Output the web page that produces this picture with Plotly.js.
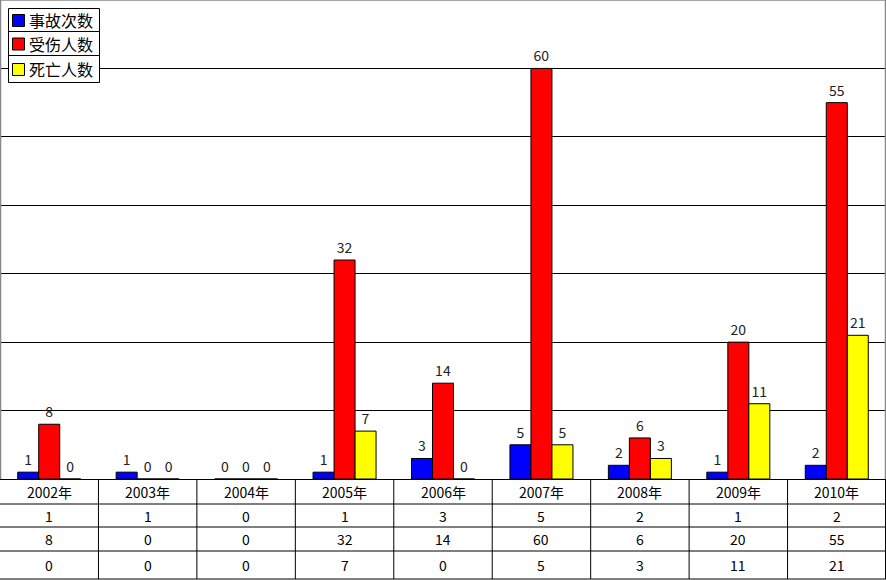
<!DOCTYPE html>
<html>
<head>
<meta charset="utf-8">
<script src="https://cdn.plot.ly/plotly-3.0.1.min.js"></script>
<style>html,body{margin:0;padding:0;background:#fff;}#chart{width:886px;height:580px;}</style>
</head>
<body>
<div id="chart"></div>
<script>
var years = ['2002年','2003年','2004年','2005年','2006年','2007年','2008年','2009年','2010年'];
var seriesNames = ['事故次数','受伤人数','死亡人数'];
var accidents = [1,1,0,1,3,5,2,1,2];
var injured = [8,0,0,32,14,60,6,20,55];
var deaths = [0,0,0,7,0,5,3,11,21];

var seriesValues = [accidents, injured, deaths];
var colors = ['#0000FF','#FF0000','#FFFF00'];
var FONT = "SimSun, 'Noto Sans CJK SC', sans-serif";

var traces = seriesValues.map(function(vals, k){
  return {
    type:'bar', name: seriesNames[k], x: years, y: vals,
    marker:{color: colors[k], line:{color:'#000', width:1}},
    text: vals.map(String), textposition:'outside', cliponaxis:false,
    constraintext:'none',
    textfont:{family: FONT, size:14, color:'#222'},
    hoverinfo:'none', showlegend:false
  };
});

var plotH = 479; // plot area height in px
var W = 886;
var rowEdges = [479, 504, 527, 551, 579];
function py(p){ return (plotH - p)/plotH; }
function px(p){ return p/W; }

var shapes = [];
var annotations = [];
var n = years.length;
// horizontal table lines
rowEdges.forEach(function(p, i){
  if (i === 0) return;
  shapes.push({type:'line', xref:'paper', yref:'paper', x0:0, x1:1, y0:py(p), y1:py(p), line:{color:'#000', width:1}});
});
// vertical table lines
for (var i = 1; i <= n; i++) {
  var xp = i/n;
  if (i === n) xp = px(885.5);
  shapes.push({type:'line', xref:'paper', yref:'paper', x0:xp, x1:xp, y0:py(rowEdges[0]), y1:py(rowEdges[rowEdges.length-1]), line:{color:'#000', width:1}});
}
// gray frame of plot area
shapes.push({type:'line', xref:'paper', yref:'paper', x0:0, x1:1, y0:1, y1:1, line:{color:'#888', width:1.5}});
shapes.push({type:'line', xref:'paper', yref:'paper', x0:px(0.5), x1:px(0.5), y0:0, y1:1, line:{color:'#888', width:1.5}});
shapes.push({type:'line', xref:'paper', yref:'paper', x0:px(885.5), x1:px(885.5), y0:0, y1:1, line:{color:'#888', width:1.5}});

// custom legend (box with row separators)
var legRows = [8.5, 31.5, 55.5, 82.5];
shapes.push({type:'rect', xref:'paper', yref:'paper', x0:px(8.5), x1:px(99.5), y0:py(legRows[0]), y1:py(legRows[3]),
  fillcolor:'#fff', line:{color:'#000', width:1}, layer:'above'});
[legRows[1], legRows[2]].forEach(function(p){
  shapes.push({type:'line', xref:'paper', yref:'paper', x0:px(8.5), x1:px(99.5), y0:py(p), y1:py(p), line:{color:'#000', width:1}, layer:'above'});
});
seriesNames.forEach(function(name, k){
  var yc = (legRows[k] + legRows[k+1]) / 2 + 0.5;
  shapes.push({type:'rect', xref:'paper', yref:'paper', x0:px(12.5), x1:px(24.5), y0:py(yc-6), y1:py(yc+6),
    fillcolor: colors[k], line:{color:'#000', width:1}, layer:'above'});
  annotations.push({xref:'paper', yref:'paper', x:px(27), y:py(yc), text:name, showarrow:false,
    xanchor:'left', yanchor:'middle', font:{family: FONT, size:16, color:'#000'}});
});

// table text
var rows = [years].concat(seriesValues.map(function(v){return v.map(String);}));
rows.forEach(function(row, r){
  var yc = (rowEdges[r] + rowEdges[r+1]) / 2;
  row.forEach(function(t, c){
    annotations.push({xref:'x', yref:'paper', x: years[c], y: py(yc), text: t, showarrow:false,
      xanchor:'center', yanchor:'middle', font:{family: FONT, size:14, color:'#000'}});
  });
});

var layout = {
  width:886, height:580,
  margin:{l:0, r:0, t:0, b:101, pad:0},
  paper_bgcolor:'#fff', plot_bgcolor:'#fff',
  barmode:'group', bargap:0.36, bargroupgap:0,
  showlegend:false,
  xaxis:{type:'category', range:[-0.5, 8.5], showticklabels:false, ticks:'', showgrid:false, zeroline:false, showline:false, fixedrange:true},
  yaxis:{range:[0,70], dtick:10, showticklabels:false, ticks:'', showgrid:true, gridcolor:'#000', gridwidth:1,
    zeroline:true, zerolinecolor:'#000', zerolinewidth:1, showline:false, fixedrange:true},
  shapes: shapes,
  annotations: annotations,
  font:{family: FONT}
};

Plotly.newPlot('chart', traces, layout, {displayModeBar:false, staticPlot:true});
</script>
</body>
</html>
